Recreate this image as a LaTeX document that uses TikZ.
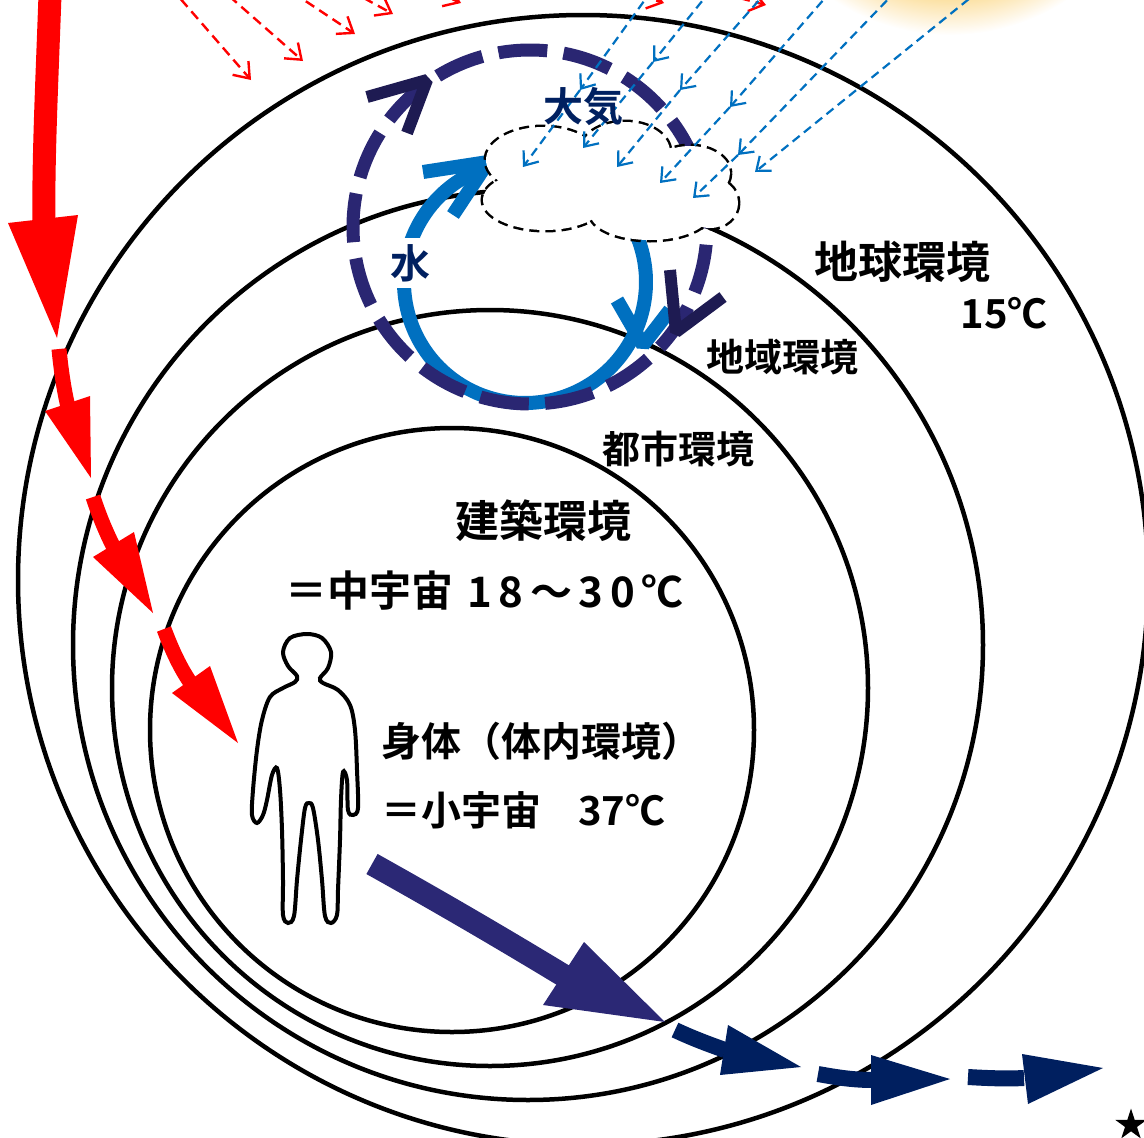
\documentclass[tikz,border=0pt]{standalone}
\usepackage{fontspec}
\newfontfamily\jp{Noto Sans CJK JP}[BoldFont={Noto Sans CJK JP Bold}]
\usetikzlibrary{arrows.meta,shapes.geometric}

\definecolor{heatred}{HTML}{FF0000}
\definecolor{airnavy}{HTML}{2A2672}
\definecolor{airnavydk}{HTML}{1E1B52}
\definecolor{waterblue}{HTML}{0070C0}
\definecolor{textnavy}{HTML}{002060}
\definecolor{flownavy}{HTML}{001F5F}
\definecolor{bodynavy}{HTML}{2B2875}
\definecolor{sunA}{HTML}{FFCF5C}
\definecolor{sunB}{HTML}{FCD98C}
\definecolor{sunC}{HTML}{FCE2A6}
\definecolor{sunD}{HTML}{FEF2D8}

% 25bp of the shading is mapped onto the radius of the shaded circle
\pgfdeclareradialshading{sunglow}{\pgfpoint{0bp}{0bp}}{color(0bp)=(sunA); color(15bp)=(sunB); color(20.9bp)=(sunC); color(23.2bp)=(sunD); color(25bp)=(white); color(50bp)=(white)}

\begin{document}
\begin{tikzpicture}[x=1pt,y=-1pt,
  ring/.style={draw=black,line width=4.5pt},
  heatray/.style={draw=heatred,line width=2.4pt,dash pattern=on 10pt off 6pt,-{Straight Barb[length=14pt,width=21pt]}},
  sunray/.style={draw=waterblue,line width=2.2pt,dash pattern=on 9pt off 5.5pt,-{Straight Barb[length=12pt,width=19pt]}},
  cloudline/.style={draw=black,line width=5pt,dash pattern=on 10pt off 6pt},
  chevron/.style={line cap=butt,line join=bevel},
  lbl/.style={inner sep=0pt,font=\jp\bfseries\fontsize{#1}{#1}\selectfont}]
\useasboundingbox (0,0) rectangle (1144,1138);
\clip (0,0) rectangle (1144,1138);

% sun glow in the upper right corner
\shade[shading=sunglow] (950,-178) circle [radius=213];

% infrared rays from the upper left
\coordinate (hsrc) at (13,-194);
\coordinate (ha) at (251,80);
\coordinate (hb) at (303,61);
\coordinate (hc) at (355,34);
\coordinate (hd) at (393,14);
\coordinate (he) at (461,3);
\coordinate (hf) at (664,3);
\coordinate (hg) at (766,5);
\foreach \t in {ha,hb,hc,hd,he,hf,hg} \draw[heatray] (hsrc) -- (\t);

% nested environments
\draw[ring] (583,580) circle [radius=565];
\draw[ring] (528,645) circle [radius=455];
\draw[ring] (490,688) circle [radius=378];
\draw[ring] (452,730) circle [radius=302];

% water cycle
\draw[waterblue,line width=14pt,line cap=butt] ([shift={(-30:121)}]525,282) arc[start angle=-30,end angle=249,radius=121];
\draw[waterblue,line width=14pt,chevron] (423,172) -- (488,162) -- (453,215);
\draw[waterblue,line width=14pt,chevron] (617,300) -- (643,345) -- (670,310);

% air cycle
\draw[airnavy,line width=13pt,dash pattern=on 49pt off 16.4pt,dash phase=47.7pt] (530,227) circle [radius=177];
\draw[airnavydk,line width=12pt,chevron] (367,97) -- (427,80) -- (407,133);
\draw[airnavydk,line width=12pt,chevron] (670,270) -- (676,332) -- (723,297);

% cloud: dashed lobes, then a white fill that hides the inner half of each outline
\foreach \cx/\cy/\rx/\ry in {543/160/57/33,625/152/45/30,690/173/40/27,710/203/28/25,650/213/60/27,545/200/62/30}
  \draw[cloudline] (\cx,\cy) ellipse [x radius=\rx,y radius=\ry];
\foreach \cx/\cy/\rx/\ry in {543/160/57/33,625/152/45/30,690/173/40/27,710/203/28/25,650/213/60/27,545/200/62/30,615/188/80/30}
  \fill[white] (\cx,\cy) ellipse [x radius=\rx,y radius=\ry];

% solar rays towards the cloud
\coordinate (b1s) at (652,-10); \coordinate (b1m) at (580,90);  \coordinate (b1e) at (523,167);
\coordinate (b2s) at (711,-10); \coordinate (b2m) at (653,62);  \coordinate (b2e) at (583,148);
\coordinate (b3s) at (768,-10); \coordinate (b3m) at (680,90);  \coordinate (b3e) at (617,167);
\coordinate (b4s) at (832,-10); \coordinate (b4m) at (730,107); \coordinate (b4e) at (660,183);
\coordinate (b5s) at (897,-10); \coordinate (b5m) at (738,155); \coordinate (b5e) at (693,198);
\foreach \i in {1,...,5} {
  \draw[sunray] (b\i s) -- (b\i m);
  \draw[sunray] (b\i m) -- (b\i e);
}
\coordinate (b6s) at (980,-10); \coordinate (b6e) at (755,172);
\draw[sunray] (b6s) -- (b6e);

% labels
\node[lbl=40,text=textnavy] (air) at (583,107) {大気};
\node[lbl=40,text=textnavy,fill=white,inner sep=6pt] (water) at (410,263) {水};
\node[lbl=44] (earth) at (902,262) {地球環境};
\node[lbl=40] (earthT) at (1004,313) {15℃};
\node[lbl=38] (region) at (782,357) {地域環境};
\node[lbl=38] (city) at (678,449) {都市環境};
\node[lbl=44] (bldg) at (543,521) {建築環境};
\node[lbl=42,anchor=west] (bldgA) at (285,591) {＝中宇宙};
\node[lbl=42,anchor=west] (bldgT) at (467,591) {\addfontfeature{LetterSpace=16}18～30℃};
\node[lbl=40,anchor=west] (body) at (381,741) {身体（体内環境）};
\node[lbl=40,anchor=west] (bodyA) at (381,810) {＝小宇宙};
\node[lbl=40,anchor=west] (bodyT) at (578,810) {37℃};

% human figure
\draw[black,line width=4pt,fill=white] plot[smooth cycle,tension=0.55] coordinates {
 (307,634) (322,638) (331,652) (328,668) (320,678) (323,683) (338,690) (350,705)
 (355,730) (357,770) (358,808) (353,815) (348,810) (347,780) (343,772) (341,800)
 (340,840) (338,890) (337,915) (331,923) (325,916) (322,880) (318,840) (313,808)
 (309,803) (305,808) (301,840) (297,880) (294,916) (288,923) (283,915) (283,880)
 (282,830) (280,790) (277,768) (272,775) (267,800) (263,815) (257,823) (252,815)
 (253,790) (257,750) (262,720) (270,697) (283,688) (295,682) (297,676) (288,666)
 (283,652) (290,638)};

% heat flowing inwards
\draw[heatred,line width=23pt] (50,-5) .. controls (47,80) and (43,160) .. (44,226);
\fill[heatred] (8,223) -- (78,215) -- (57,338) -- cycle;
\draw[heatred,line width=15pt] (59,349) .. controls (61,370) and (64,390) .. (68,407);
\fill[heatred] (45,411) -- (90,396) -- (91,478) -- cycle;
\draw[heatred,line width=15pt] (93,497) .. controls (99,515) and (105,530) .. (114,548);
\fill[heatred] (93,557) -- (134,532) -- (153,613) -- cycle;
\draw[heatred,line width=15pt] (164,629) .. controls (172,650) and (180,668) .. (192,685);
\fill[heatred] (172,693) -- (210,666) -- (238,743) -- cycle;

% heat flowing outwards
\draw[bodynavy,line width=23pt] (372,864) .. controls (440,902) and (500,937) .. (566,977);
\fill[bodynavy] (543,1005) -- (584,942) -- (665,1022) -- cycle;
\draw[flownavy,line width=16pt] (675,1030) .. controls (690,1037) and (705,1043) .. (725,1050);
\fill[flownavy] (728,1025) -- (720,1075) -- (801,1067) -- cycle;
\draw[flownavy,line width=16pt] (818,1074) .. controls (835,1077) and (852,1080) .. (873,1080);
\fill[flownavy] (871,1055) -- (871,1105) -- (950,1079) -- cycle;
\draw[flownavy,line width=16pt] (968,1077) .. controls (985,1078) and (1005,1079) .. (1024,1078);
\fill[flownavy] (1022,1054) -- (1028,1104) -- (1103,1068) -- cycle;

\node[star,star points=5,star point ratio=2.618,fill=black,minimum size=33pt,inner sep=0pt] (mark) at (1131,1125) {};
\end{tikzpicture}
\end{document}
